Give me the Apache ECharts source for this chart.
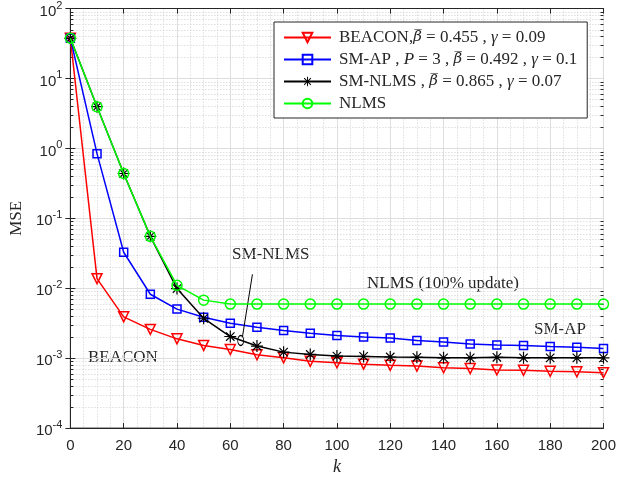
<!DOCTYPE html>
<html>
<head>
    <meta charset="utf-8">
    <title>MSE vs k</title>
    <script src="https://cdn.jsdelivr.net/npm/echarts@6/dist/echarts.min.js"></script>
    <style>
        html, body { margin: 0; padding: 0; background: #fff; }
        #main { width: 619px; height: 481px; }
    </style>
</head>
<body>
    <div id="main"></div>
    <script>
        // iterations
        var kValues = [0, 10, 20, 30, 40, 50, 60, 70, 80, 90, 100, 110, 120, 130, 140, 150, 160, 170, 180, 190, 200];
        // MSE curves
        var beacon = [37.5, 0.0137, 0.0039, 0.00258, 0.00189, 0.00152, 0.00133, 0.00112, 0.00101, 0.00090, 0.00086,
            0.00082, 0.00079, 0.00077, 0.00073, 0.00071, 0.00068, 0.00067, 0.00065, 0.00064, 0.00062];
        var smAp = [37.5, 0.84, 0.0327, 0.0082, 0.00503, 0.00384, 0.00315, 0.00277, 0.00248, 0.00228, 0.00211,
            0.0020, 0.00194, 0.00179, 0.00170, 0.00159, 0.00154, 0.00152, 0.00147, 0.00143, 0.00138];
        var smNlms = [37.5, 3.94, 0.437, 0.0552, 0.0099, 0.00372, 0.00204, 0.00149, 0.00122, 0.00113, 0.00107,
            0.00106, 0.00104, 0.00103, 0.00101, 0.00101, 0.00103, 0.00101, 0.00101, 0.00101, 0.00101];
        var nlms = [37.5, 3.94, 0.437, 0.0552, 0.0110, 0.00676, 0.00593, 0.00593, 0.00593, 0.00593, 0.00593,
            0.00593, 0.00593, 0.00593, 0.00593, 0.00593, 0.00593, 0.00593, 0.00593, 0.00593, 0.00593];

        var seriesNames = ['BEACON', 'SM-AP', 'SM-NLMS', 'NLMS'];
        var legendText = {
            'BEACON': 'BEACON,{o|β\u0305} = 0.455 , {i|γ} = 0.09',
            'SM-AP': 'SM-AP , {i|P} = 3 , {o|β\u0305} = 0.492 , {i|γ} = 0.1',
            'SM-NLMS': 'SM-NLMS , {o|β\u0305} = 0.865 , {i|γ} = 0.07',
            'NLMS': 'NLMS'
        };
        var xTicks = [0, 200, 20];
        var yRange = [1e-4, 1e2];

        // annotation for SM-NLMS (data coordinates)
        var pointerLine = [[68.3, 0.0158], [64.6, 0.00207]];
        var pointerEllipse = [63.9, 0.00179];

        var serif = 'Liberation Serif';
        var sans = 'Liberation Sans';
        var ink = '#262626';
        var textSize = 17;

        // minor log grid values 2..9 x 10^n
        var minorY = [];
        for (var e = -4; e < 2; e++) {
            for (var m = 2; m <= 9; m++) minorY.push([0, m * Math.pow(10, e)]);
        }

        function pairs(arr) {
            return kValues.map(function (k, i) { return [k, arr[i]]; });
        }

        var asterisk = 'path://M-1,-10L1,-10L1,10L-1,10Z M-10,-1L10,-1L10,1L-10,1Z ' +
            'M-6.3,-7.7L7.7,6.3L6.3,7.7L-7.7,-6.3Z M6.3,-7.7L7.7,-6.3L-6.3,7.7L-7.7,6.3Z';

        var chart = echarts.init(document.getElementById('main'));

        var option = {
            animation: false,
            backgroundColor: '#fff',
            grid: { left: 69, right: 15, top: 7, bottom: 51, show: true, borderColor: ink, borderWidth: 1, backgroundColor: '#fff' },
            legend: {
                data: seriesNames,
                orient: 'vertical',
                left: 274,
                top: 22,
                backgroundColor: '#fff',
                borderColor: ink,
                borderWidth: 1,
                borderRadius: 0,
                padding: [7, 10, 6, 9],
                itemWidth: 47,
                itemHeight: 12,
                itemGap: 5,
                textStyle: {
                    fontFamily: serif, fontSize: textSize, color: ink, lineHeight: 16, padding: [0, 0, 0, 3],
                    rich: {
                        i: { fontFamily: serif, fontStyle: 'italic', fontSize: textSize, color: ink, lineHeight: 16 },
                        o: { fontFamily: 'DejaVu Serif', fontStyle: 'italic', fontSize: 15, color: ink, lineHeight: 16 }
                    }
                },
                formatter: function (name) { return legendText[name]; }
            },
            xAxis: [{
                type: 'value',
                min: xTicks[0], max: xTicks[1], interval: xTicks[2],
                name: 'k',
                nameLocation: 'middle',
                nameGap: 26,
                nameTextStyle: { fontFamily: serif, fontStyle: 'italic', fontSize: 18, color: ink },
                axisLine: { lineStyle: { color: ink } },
                axisTick: { inside: true, length: 5, lineStyle: { color: ink } },
                axisLabel: { fontFamily: sans, fontSize: 15, color: ink, margin: 10 },
                splitLine: { lineStyle: { color: '#dedede' } },
                minorTick: { show: false, splitNumber: 4 },
                minorSplitLine: { show: true, lineStyle: { color: '#cfcfcf', type: [1, 2] } }
            }, {
                type: 'value',
                position: 'top',
                min: xTicks[0], max: xTicks[1], interval: xTicks[2],
                axisLine: { lineStyle: { color: ink } },
                axisTick: { inside: true, length: 5, lineStyle: { color: ink } },
                axisLabel: { show: false },
                splitLine: { show: false }
            }],
            yAxis: [{
                type: 'log',
                logBase: 10,
                min: yRange[0], max: yRange[1], interval: 1,
                name: 'MSE',
                nameLocation: 'middle',
                nameGap: 38,
                nameTextStyle: { fontFamily: serif, fontSize: textSize, color: ink },
                axisLine: { lineStyle: { color: ink } },
                axisTick: { inside: true, length: 5, lineStyle: { color: ink } },
                axisLabel: {
                    color: ink, margin: 8,
                    formatter: function (v) {
                        return '{b|10}{s|' + Math.round(Math.log10(v)) + '}';
                    },
                    rich: {
                        b: { fontFamily: sans, fontSize: 15, color: ink, padding: [6, 0, 0, 0] },
                        s: { fontFamily: sans, fontSize: 11, color: ink, padding: [0, 0, 6, 0] }
                    }
                },
                splitLine: { lineStyle: { color: '#dedede' } }
            }, {
                type: 'log',
                logBase: 10,
                position: 'right',
                min: yRange[0], max: yRange[1], interval: 1,
                axisLine: { lineStyle: { color: ink } },
                axisTick: { inside: true, length: 5, lineStyle: { color: ink } },
                axisLabel: { show: false },
                splitLine: { show: false }
            }],
            graphic: [
                { type: 'text', left: 232, top: 246, style: { text: 'SM-NLMS', font: textSize + 'px ' + serif, fill: ink } },
                { type: 'text', left: 367, top: 275, style: { text: 'NLMS (100% update)', font: textSize + 'px ' + serif, fill: ink } },
                { type: 'text', left: 534, top: 321, style: { text: 'SM-AP', font: textSize + 'px ' + serif, fill: ink } },
                { type: 'text', left: 88, top: 349, style: { text: 'BEACON', font: textSize + 'px ' + serif, fill: ink } }
            ],
            series: [{
                name: 'minor-grid',
                type: 'custom',
                silent: true,
                z: 0,
                data: minorY,
                renderItem: function (params, api) {
                    var v = api.value(1);
                    var a = api.coord([xTicks[0], v]);
                    var b = api.coord([xTicks[1], v]);
                    var y = Math.round(a[1]) + 0.5;
                    return {
                        type: 'group',
                        children: [
                            { type: 'line', shape: { x1: a[0], y1: y, x2: b[0], y2: y }, style: { stroke: '#cfcfcf', lineWidth: 1, lineDash: [1, 2] } },
                            { type: 'line', shape: { x1: a[0], y1: y, x2: a[0] + 3, y2: y }, style: { stroke: ink, lineWidth: 1 } },
                            { type: 'line', shape: { x1: b[0] - 3, y1: y, x2: b[0], y2: y }, style: { stroke: ink, lineWidth: 1 } }
                        ]
                    };
                }
            }, {
                name: 'BEACON',
                type: 'line',
                data: pairs(beacon),
                symbol: 'triangle',
                symbolRotate: 180,
                symbolSize: 10,
                lineStyle: { color: '#ff0000', width: 1.5 },
                itemStyle: { color: 'rgba(255,255,255,0)', borderColor: '#ff0000', borderWidth: 1.5 },
                z: 3
            }, {
                name: 'SM-AP',
                type: 'line',
                data: pairs(smAp),
                symbol: 'rect',
                symbolSize: 8,
                lineStyle: { color: '#0000ff', width: 1.5 },
                itemStyle: { color: 'rgba(255,255,255,0)', borderColor: '#0000ff', borderWidth: 1.5 },
                z: 4
            }, {
                name: 'SM-NLMS',
                type: 'line',
                data: pairs(smNlms),
                symbol: asterisk,
                symbolSize: 12,
                lineStyle: { color: '#000000', width: 1.5 },
                itemStyle: { color: '#000000' },
                markLine: {
                    silent: true,
                    symbol: 'none',
                    label: { show: false },
                    lineStyle: { color: '#000000', width: 1, type: 'solid' },
                    data: [[{ coord: pointerLine[0] }, { coord: pointerLine[1] }]]
                },
                markPoint: {
                    silent: true,
                    symbol: 'circle',
                    symbolSize: [6, 10],
                    label: { show: false },
                    itemStyle: { color: 'rgba(255,255,255,0)', borderColor: '#000000', borderWidth: 1 },
                    data: [{ coord: pointerEllipse }]
                },
                z: 5
            }, {
                name: 'NLMS',
                type: 'line',
                data: pairs(nlms),
                symbol: 'circle',
                symbolSize: 10,
                lineStyle: { color: '#00ff00', width: 1.5 },
                itemStyle: { color: 'rgba(255,255,255,0)', borderColor: '#00ff00', borderWidth: 1.5 },
                z: 6
            }]
        };

        chart.setOption(option);
    </script>
</body>
</html>
